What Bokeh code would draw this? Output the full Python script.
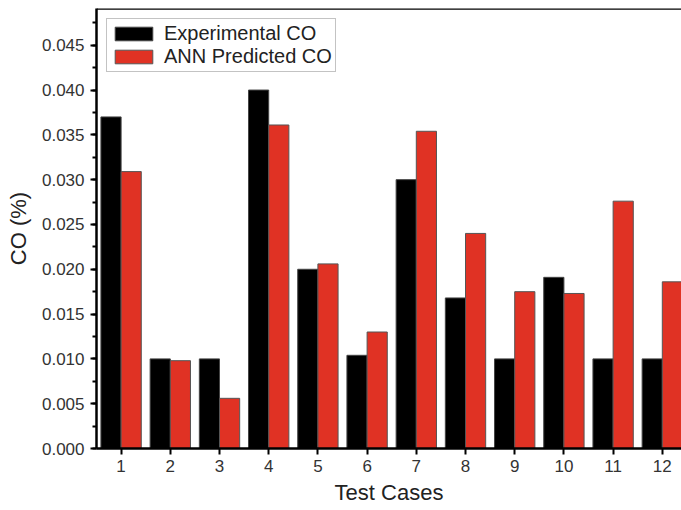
from bokeh.plotting import figure
from bokeh.models import (Range1d, SingleIntervalTicker, FixedTicker, PrintfTickFormatter,
                          Span, ColumnDataSource, Legend, LegendItem)
from bokeh.embed import file_html
from bokeh.resources import INLINE

cases = [1, 2, 3, 4, 5, 6, 7, 8, 9, 10, 11, 12]
experimental = [0.037, 0.010, 0.010, 0.040, 0.020, 0.0104, 0.030, 0.0168, 0.010, 0.0191, 0.010, 0.010]
predicted = [0.0309, 0.0098, 0.0056, 0.0361, 0.0206, 0.0130, 0.0354, 0.0240, 0.0175, 0.0173, 0.0276, 0.0186]
series_names = ["Experimental CO", "ANN Predicted CO"]

BAR_W = 0.41
FONT = "Liberation Sans"

src = ColumnDataSource(dict(
    x_exp=[c - BAR_W / 2 for c in cases],
    x_pred=[c + BAR_W / 2 for c in cases],
    exp=experimental,
    pred=predicted,
))

y_end = 0.0491
p = figure(width=681, height=510, output_backend="svg", toolbar_location=None,
           x_range=Range1d(0.5, 12.39), y_range=Range1d(0, y_end),
           min_border_left=96, min_border_right=0, min_border_top=8, min_border_bottom=62)
p.outline_line_color = None
p.xgrid.visible = False
p.ygrid.visible = False
p.background_fill_color = "white"
p.border_fill_color = "white"

r1 = p.vbar(x="x_exp", top="exp", width=BAR_W, source=src,
            fill_color="black", line_color="#444444", line_width=1)
r2 = p.vbar(x="x_pred", top="pred", width=BAR_W, source=src,
            fill_color="#E03224", line_color="#555555", line_width=1)

p.add_layout(Span(location=y_end, dimension="width", line_color="black", line_width=2.5))

# axes
p.yaxis.ticker = SingleIntervalTicker(interval=0.005, num_minor_ticks=2)
p.yaxis.formatter = PrintfTickFormatter(format="%.3f")
p.xaxis.ticker = FixedTicker(ticks=cases)
for ax in (p.xaxis[0], p.yaxis[0]):
    ax.axis_line_width = 2.5
    ax.axis_line_color = "black"
    ax.major_tick_in = 0
    ax.major_tick_out = 6
    ax.major_tick_line_width = 2
    ax.minor_tick_in = 0
    ax.minor_tick_out = 4
    ax.minor_tick_line_width = 2
    ax.major_label_text_font = FONT
    ax.major_label_text_font_size = "17px"
    ax.major_label_text_color = "#333333"
    ax.axis_label_text_font = FONT
    ax.axis_label_text_font_size = "22px"
    ax.axis_label_text_font_style = "normal"
    ax.axis_label_text_color = "#222222"
p.xaxis.minor_tick_line_color = None
p.xaxis.major_label_standoff = 5
p.yaxis.major_label_standoff = 6
p.xaxis.axis_label = "Test Cases"
p.yaxis.axis_label = "CO (%)"
p.xaxis.axis_label_standoff = 5
p.yaxis.axis_label_standoff = 8

legend = Legend(items=[LegendItem(label=series_names[0], renderers=[r1]),
                       LegendItem(label=series_names[1], renderers=[r2])],
                location="top_left")
legend.margin = 10
legend.padding = 3
legend.spacing = 0
legend.glyph_width = 47
legend.glyph_height = 17
legend.label_standoff = 7
legend.label_text_font = FONT
legend.label_text_font_size = "20px"
legend.label_text_color = "#222222"
legend.border_line_color = "#888888"
legend.border_line_width = 1
legend.background_fill_color = "white"
p.add_layout(legend)

open("out.html", "w").write(file_html(p, INLINE))
